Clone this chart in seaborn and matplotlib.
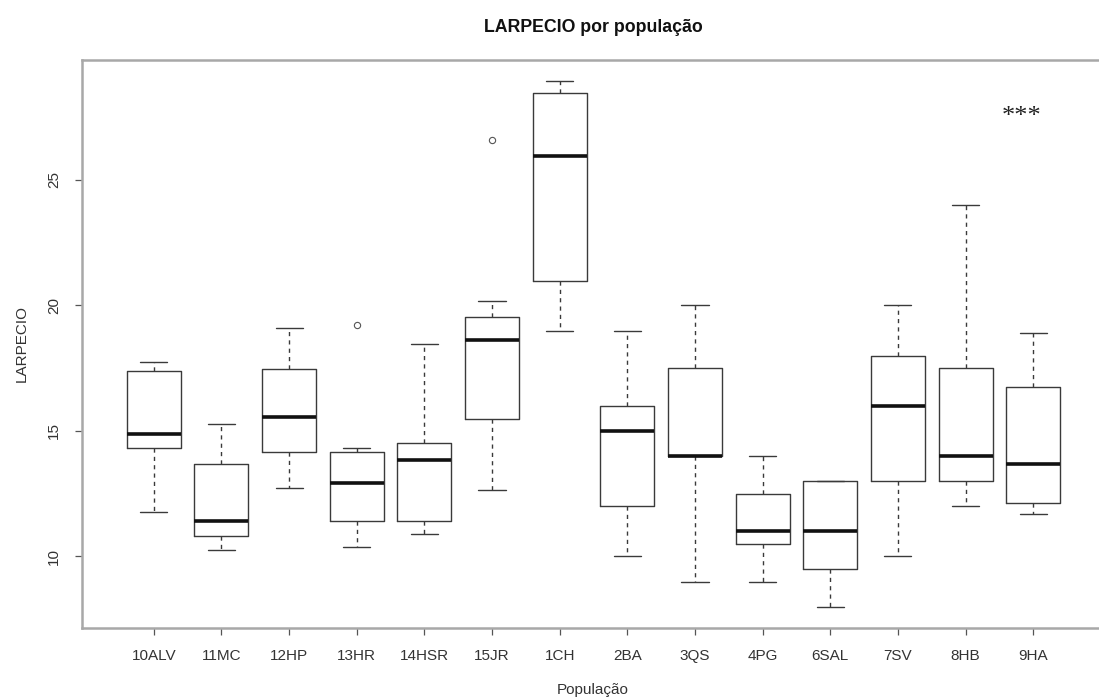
import matplotlib
matplotlib.use("Agg")
import matplotlib.pyplot as plt
import seaborn as sns
import pandas as pd

# ---- data ----
populations = ["10ALV", "11MC", "12HP", "13HR", "14HSR", "15JR", "1CH",
               "2BA", "3QS", "4PG", "6SAL", "7SV", "8HB", "9HA"]

g10ALV = [11.77, 14.31, 14.89, 17.39, 17.74]
g11MC = [10.24, 10.81, 11.41, 13.67, 15.27]
g12HP = [12.74, 14.17, 15.56, 17.46, 19.10]
g13HR = [10.39, 10.90, 11.43, 12.20, 12.93, 13.60, 14.17, 14.31, 19.24]
g14HSR = [10.89, 11.43, 13.84, 14.53, 18.46]
g15JR = [12.64, 14.20, 15.46, 17.10, 18.64, 19.10, 19.56, 20.17, 26.60]
g1CH = [18.99, 20.99, 25.96, 28.45, 28.94]
g2BA = [10.0, 12.0, 15.0, 16.0, 19.0]
g3QS = [9.0, 14.0, 14.0, 17.5, 20.0]
g4PG = [9.0, 10.5, 11.0, 12.5, 14.0]
g6SAL = [8.0, 9.5, 11.0, 13.0, 13.0]
g7SV = [10.0, 13.0, 16.0, 18.0, 20.0]
g8HB = [12.0, 13.0, 14.0, 17.5, 24.0]
g9HA = [11.71, 12.14, 13.69, 16.74, 18.89]

groups = [g10ALV, g11MC, g12HP, g13HR, g14HSR, g15JR, g1CH,
          g2BA, g3QS, g4PG, g6SAL, g7SV, g8HB, g9HA]

rows = []
for name, vals in zip(populations, groups):
    for v in vals:
        rows.append((name, v))
df = pd.DataFrame(rows, columns=["Populacao", "LARPECIO"])

# ---- style ----
sns.set_theme(style="white")
plt.rcParams["font.family"] = ["Liberation Sans", "DejaVu Sans"]

W, H = 1099, 700
fig = plt.figure(figsize=(W / 100, H / 100), dpi=100)
left, right, top, bottom = 82, 1105, 60, 628
ax = fig.add_axes([left / W, 1 - bottom / H, (right - left) / W, (bottom - top) / H])

line_col = "#3a3a3a"
sns.boxplot(
    data=df, x="Populacao", y="LARPECIO", order=populations, ax=ax,
    width=0.8, fill=False, color=line_col, linewidth=1.0, whis=1.5,
    medianprops=dict(color="#111111", linewidth=2.6),
    whiskerprops=dict(linestyle=(0, (3, 3)), color=line_col, linewidth=1.0),
    capprops=dict(color=line_col, linewidth=1.0),
    boxprops=dict(color=line_col, linewidth=1.0),
    flierprops=dict(marker="o", markerfacecolor="none", markeredgecolor="#555555",
                    markersize=4.5, markeredgewidth=0.8),
)

ax.set_xlim(-1.06, 14.06)
ax.set_ylim(7.15, 29.78)
ax.set_yticks([10, 15, 20, 25])
ax.set_yticklabels(["10", "15", "20", "25"], rotation=90, va="center")

for s in ax.spines.values():
    s.set_visible(True)
    s.set_color("#a8a8a8")
    s.set_linewidth(1.8)

ax.tick_params(axis="both", direction="out", length=5, width=0.9, color="#555555",
               labelsize=11, labelcolor="#333333", pad=10)
ax.tick_params(axis="x", bottom=True)
ax.tick_params(axis="y", left=True)

ax.set_xlabel("")
ax.set_ylabel("")
fig.text(593 / W, 1 - 690 / H, "População", ha="center", va="center",
         fontsize=11, color="#333333")
fig.text(22 / W, 1 - 344 / H, "LARPECIO", ha="center", va="center",
         rotation=90, fontsize=11, color="#333333")
fig.text(593 / W, 1 - 27 / H, "LARPECIO por população", ha="center", va="center",
         fontsize=12.8, fontweight="bold", color="#111111")

ax.text(12.83, 27.5, "***", ha="center", va="center", fontsize=19,
        family=["Liberation Serif", "DejaVu Serif"], color="#222222")

fig.savefig("out.png", dpi=100)
